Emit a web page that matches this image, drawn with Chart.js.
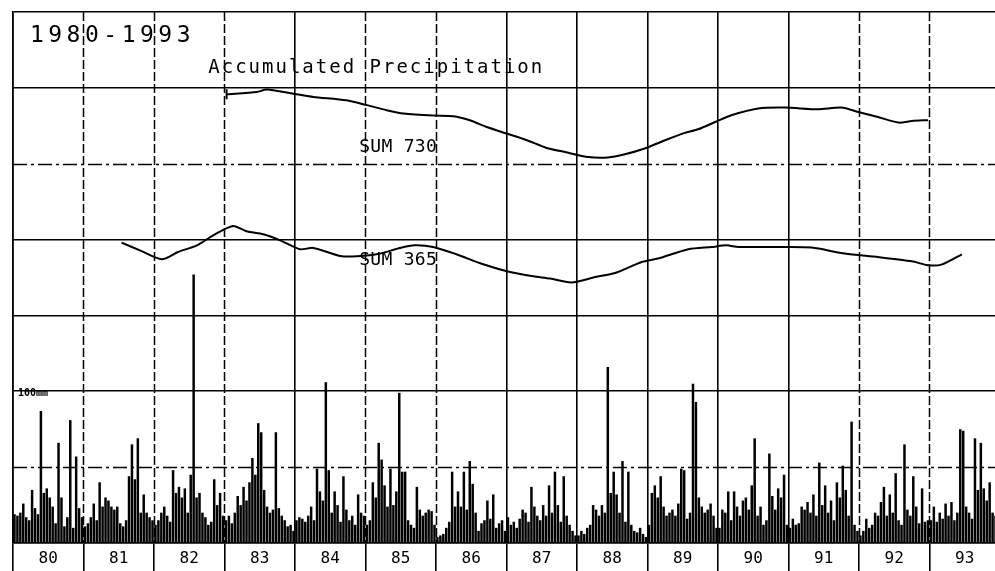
<!DOCTYPE html>
<html lang="en">

<head>
  <meta charset="UTF-8" />
  <title>Accumulated Precipitation 1980-1993</title>
  <script src="https://cdn.jsdelivr.net/npm/chart.js"></script>
  <style>
    html, body { margin: 0; padding: 0; background: #fff; overflow: hidden; }
    #caixa { width: 995px; height: 571px; }
  </style>
</head>

<body>
  <div id="caixa"><canvas id="grafico"></canvas></div>

<script>
  // chuva por meio mes (mm), 24 valores por ano
  const RAIN_1980 = [19, 18, 20, 26, 17, 15, 35, 23, 19, 87, 33, 36, 30, 24, 13, 66, 30, 11, 17, 81, 10, 57, 23, 17];
  const RAIN_1981 = [11, 13, 17, 26, 15, 40, 24, 30, 28, 24, 22, 24, 13, 11, 15, 44, 65, 42, 69, 20, 32, 20, 17, 15];
  const RAIN_1982 = [12, 15, 20, 24, 18, 14, 48, 33, 37, 30, 36, 20, 45, 177, 30, 33, 20, 17, 12, 14, 42, 25, 33, 18];
  const RAIN_1983 = [15, 18, 13, 20, 31, 25, 37, 28, 40, 56, 45, 79, 73, 35, 24, 20, 22, 73, 23, 18, 15, 11, 12, 8];
  const RAIN_1984 = [15, 17, 16, 14, 18, 24, 15, 49, 34, 28, 106, 48, 20, 34, 25, 14, 44, 22, 15, 18, 12, 32, 20, 18];
  const RAIN_1985 = [12, 15, 40, 30, 66, 55, 38, 24, 49, 25, 34, 99, 47, 47, 15, 12, 10, 37, 22, 18, 20, 22, 21, 12];
  const RAIN_1986 = [4, 5, 6, 10, 14, 47, 24, 34, 24, 47, 22, 54, 39, 20, 8, 13, 15, 28, 16, 32, 10, 13, 15, 8];
  const RAIN_1987 = [17, 12, 14, 10, 16, 22, 20, 14, 37, 24, 18, 15, 25, 18, 38, 20, 47, 25, 14, 44, 18, 12, 8, 5];
  const RAIN_1988 = [5, 8, 6, 10, 12, 25, 22, 18, 25, 20, 116, 33, 47, 32, 20, 54, 14, 47, 12, 8, 7, 10, 6, 4];
  const RAIN_1989 = [12, 33, 38, 30, 44, 24, 18, 20, 22, 18, 26, 49, 48, 16, 20, 105, 93, 30, 24, 20, 22, 26, 18, 10];
  const RAIN_1990 = [10, 22, 20, 34, 15, 34, 24, 18, 28, 30, 22, 38, 69, 18, 24, 12, 15, 59, 31, 22, 36, 30, 45, 12];
  const RAIN_1991 = [10, 16, 12, 13, 24, 22, 27, 20, 32, 18, 53, 25, 38, 20, 28, 15, 40, 30, 51, 35, 18, 80, 12, 8];
  const RAIN_1992 = [5, 8, 16, 10, 12, 20, 18, 27, 37, 18, 32, 20, 46, 15, 12, 65, 22, 18, 44, 24, 13, 36, 14, 15];
  const RAIN_1993 = [15, 24, 14, 20, 16, 26, 18, 27, 15, 20, 75, 74, 24, 20, 16, 69, 35, 66, 36, 28, 40, 20, 18, 12];

  const YEARS = [1980, 1981, 1982, 1983, 1984, 1985, 1986, 1987, 1988, 1989, 1990, 1991, 1992, 1993];
  const YEAR_LABELS = ['80', '81', '82', '83', '84', '85', '86', '87', '88', '89', '90', '91', '92', '93'];

  // SUM 730 (mesma escala do grafico)
  const SUM730_T = [1983.03, 1983.46, 1983.60, 1984.02, 1984.26, 1984.73, 1985.02, 1985.30, 1985.54, 1985.96,
    1986.25, 1986.48, 1986.72, 1987.00, 1987.29, 1987.57, 1987.83, 1988.16, 1988.44, 1988.68,
    1988.96, 1989.25, 1989.53, 1989.72, 1989.96, 1990.19, 1990.57, 1990.95, 1991.42, 1991.75,
    1991.99, 1992.27, 1992.56, 1992.75, 1992.98];
  const SUM730_V = [295.8, 297.3, 298.9, 295.8, 294.0, 291.8, 288.6, 285.3, 283.1, 281.7,
    281.3, 278.6, 274.2, 269.9, 265.5, 260.4, 257.7, 254.4, 254.1, 256.2,
    260.0, 265.5, 270.3, 272.7, 277.5, 281.9, 286.4, 287.0, 285.9, 287.0,
    284.1, 280.8, 277.1, 278.2, 278.7];

  // SUM 365
  const SUM365_T = [1981.54, 1981.80, 1982.11, 1982.34, 1982.61, 1982.84, 1983.12, 1983.31, 1983.55, 1983.79,
    1984.07, 1984.26, 1984.64, 1984.88, 1985.21, 1985.49, 1985.70, 1985.96, 1986.29, 1986.67,
    1987.05, 1987.38, 1987.62, 1987.92, 1988.26, 1988.54, 1988.92, 1989.15, 1989.58, 1989.91,
    1990.12, 1990.29, 1990.95, 1991.33, 1991.80, 1992.27, 1992.75, 1992.98, 1993.17, 1993.46];
  const SUM365_V = [198.0, 192.9, 187.0, 191.8, 196.2, 202.8, 209.0, 205.5, 203.5, 199.5,
    193.6, 194.5, 189.2, 189.0, 190.8, 194.5, 196.2, 195.1, 190.3, 183.7,
    178.6, 175.8, 174.3, 171.7, 175.3, 178.0, 185.2, 187.5, 193.6, 195.1,
    196.2, 195.1, 195.1, 194.7, 190.8, 188.5, 185.7, 183.1, 183.5, 190.3];

  // linhas de grade que o plotter fez tracejadas
  const DASHED_YEARS = [1981, 1982, 1983, 1985, 1986, 1992, 1993];
  const DASHED_MM = [50, 250];

  // textos soltos dentro do grafico (ano, mm)
  const ROTULOS = [
    { texto: '1980-1993', ano: 1980.24, mm: 330, font: '23px "DejaVu Sans Mono"', esp: 4.5 },
    { texto: 'Accumulated Precipitation', ano: 1982.77, mm: 310, font: '19px "DejaVu Sans Mono"', esp: 2 },
    { texto: 'SUM 730', ano: 1984.91, mm: 258, font: '18px "DejaVu Sans Mono"', esp: 0.3 },
    { texto: 'SUM 365', ano: 1984.91, mm: 183, font: '18px "DejaVu Sans Mono"', esp: 0.3 },
    { texto: '100mm', ano: 1980.07, mm: 97, font: 'bold 10px "DejaVu Sans Mono"', esp: 0 }
  ];

  const chuva = [RAIN_1980, RAIN_1981, RAIN_1982, RAIN_1983, RAIN_1984, RAIN_1985, RAIN_1986,
    RAIN_1987, RAIN_1988, RAIN_1989, RAIN_1990, RAIN_1991, RAIN_1992, RAIN_1993];

  let barras = [];
  for (let a = 0; a < YEARS.length; a++) {
    const meses = chuva[a];
    for (let i = 0; i < meses.length; i++) {
      barras.push({ x: YEARS[a] + (i + 0.5) / meses.length, y: meses[i] });
    }
  }

  let linha730 = SUM730_T.map((t, i) => ({ x: t, y: SUM730_V[i] }));
  let linha365 = SUM365_T.map((t, i) => ({ x: t, y: SUM365_V[i] }));

  const SEM_COR = 'rgba(0,0,0,0)';

  // grade tracejada, desenhada pelas escalas do proprio chart
  const tracejado = {
    id: 'tracejado',
    beforeDatasetsDraw(chart) {
      const ctx = chart.ctx;
      const area = chart.chartArea;
      const sx = chart.scales.x;
      const sy = chart.scales.y;
      ctx.save();
      ctx.strokeStyle = '#000';
      ctx.lineWidth = 1.5;
      ctx.setLineDash([9, 3]);
      for (const ano of DASHED_YEARS) {
        const px = Math.round(sx.getPixelForValue(ano)) + 0.5;
        ctx.beginPath();
        ctx.moveTo(px, area.top);
        ctx.lineTo(px, area.bottom);
        ctx.stroke();
      }
      ctx.setLineDash([14, 4, 3, 4]);
      for (const mm of DASHED_MM) {
        const py = Math.round(sy.getPixelForValue(mm)) + 0.5;
        ctx.beginPath();
        ctx.moveTo(area.left, py);
        ctx.lineTo(area.right, py);
        ctx.stroke();
      }
      ctx.restore();
    }
  };

  const textos = {
    id: 'textos',
    afterDatasetsDraw(chart) {
      const ctx = chart.ctx;
      const sx = chart.scales.x;
      const sy = chart.scales.y;
      ctx.save();
      ctx.fillStyle = '#000';
      ctx.textBaseline = 'alphabetic';
      ctx.textAlign = 'left';
      for (const r of ROTULOS) {
        ctx.font = r.font;
        ctx.letterSpacing = r.esp + 'px';
        ctx.fillText(r.texto, sx.getPixelForValue(r.ano), sy.getPixelForValue(r.mm));
      }
      ctx.restore();
    }
  };

  const config = {
    data: {
      datasets: [
        {
          type: 'line',
          label: 'SUM 730',
          data: linha730,
          borderColor: '#000',
          borderWidth: 2,
          tension: 0.25,
          pointStyle: 'line',
          rotation: 90,
          pointBorderColor: '#000',
          pointBorderWidth: 2,
          pointRadius: (c) => c.dataIndex === 0 ? 5 : 0
        },
        {
          type: 'line',
          label: 'SUM 365',
          data: linha365,
          borderColor: '#000',
          borderWidth: 2,
          tension: 0.25,
          pointRadius: 0
        },
        {
          type: 'bar',
          label: 'mm',
          data: barras,
          backgroundColor: '#000',
          barPercentage: 0.85,
          categoryPercentage: 1,
          grouped: false
        }
      ]
    },
    options: {
      responsive: true,
      maintainAspectRatio: false,
      animation: false,
      layout: { autoPadding: false, padding: { top: 12, left: 13, right: 0, bottom: 0 } },
      plugins: {
        legend: { display: false },
        title: { display: false },
        tooltip: { enabled: false }
      },
      scales: {
        x: {
          type: 'linear',
          min: 1980,
          max: 1993.93,
          offset: false,
          afterBuildTicks: (s) => { s.ticks = YEARS.map(a => ({ value: a + 0.5 })); },
          afterFit: (s) => { s.height = 28; },
          ticks: {
            callback: (v, i) => YEAR_LABELS[i],
            autoSkip: false,
            maxRotation: 0,
            minRotation: 0,
            padding: -22,
            color: '#000',
            font: { family: 'DejaVu Sans Mono', size: 16 }
          },
          grid: {
            offset: true,
            color: (c) => DASHED_YEARS.includes(1980 + c.index) ? SEM_COR : '#000',
            lineWidth: 1.6,
            tickLength: 28,
            tickColor: '#000',
            tickWidth: 1.6
          },
          border: { display: true, color: '#000', width: 1.6 }
        },
        y: {
          min: 0,
          max: 350,
          afterFit: (s) => { s.width = 0; },
          ticks: { stepSize: 50, display: false },
          grid: {
            color: (c) => c.tick && DASHED_MM.includes(c.tick.value) ? SEM_COR : '#000',
            lineWidth: 1.6,
            drawTicks: false
          },
          border: { display: true, color: '#000', width: 1.6 }
        }
      }
    },
    plugins: [tracejado, textos]
  };

  let myChart = new Chart(document.getElementById('grafico'), config);
</script>
</body>

</html>
